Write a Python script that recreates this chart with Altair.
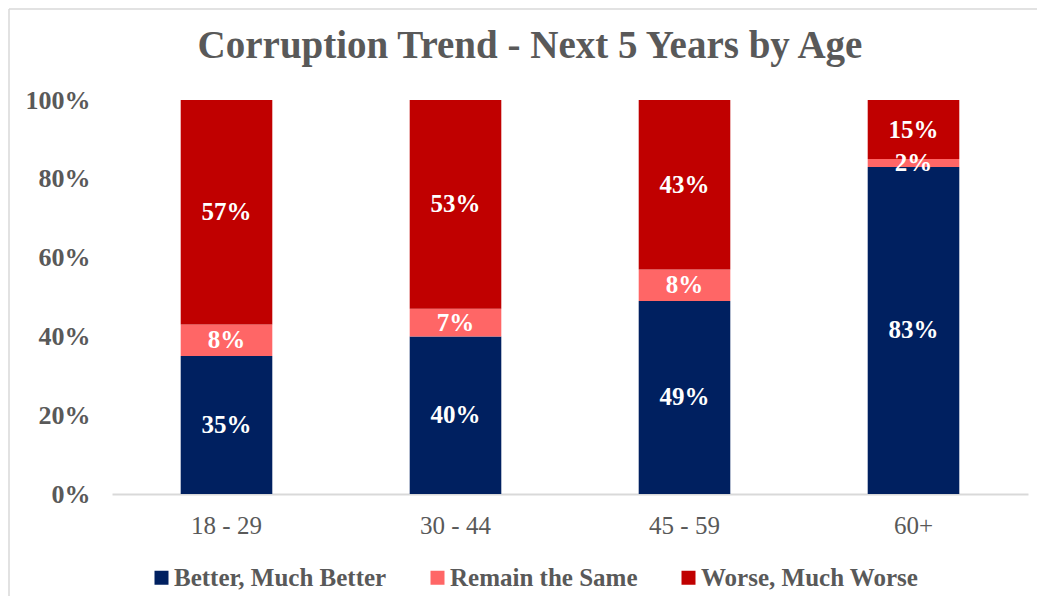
import altair as alt
import pandas as pd

ages = ["18 - 29", "30 - 44", "45 - 59", "60+"]
series = ["Better, Much Better", "Remain the Same", "Worse, Much Worse"]
better = [35, 40, 49, 83]
same = [8, 7, 8, 2]
worse = [57, 53, 43, 15]
colors = ["#002060", "#FF6666", "#C00000"]
y_ticks = [0, 20, 40, 60, 80, 100]
title_text = "Corruption Trend - Next 5 Years by Age"

rows = []
for i, a in enumerate(ages):
    for k, (s, vals) in enumerate(zip(series, [better, same, worse])):
        rows.append({"age": a, "series": s, "value": vals[i], "order": k})
df = pd.DataFrame(rows)

FONT = "Liberation Serif"
GRAY = "#595959"

base = (
    alt.Chart(df)
    .transform_stack(stack="value", groupby=["age"], as_=["y0", "y1"],
                     sort=[alt.SortField("order", order="ascending")])
    .transform_calculate(mid="(datum.y0 + datum.y1) / 2", label="datum.value + '%'")
)

x = alt.X(
    "age:N", sort=ages, title=None,
    scale=alt.Scale(paddingInner=0.6, paddingOuter=0.3),
    axis=alt.Axis(labelAngle=0, labelFont=FONT, labelFontSize=25, labelColor=GRAY,
                  domainColor="#D9D9D9", domainWidth=2, ticks=False, labelPadding=19,
                  grid=False),
)

bars = base.mark_bar().encode(
    x=x,
    y=alt.Y("y1:Q", title=None, scale=alt.Scale(domain=[0, 100], nice=False),
            axis=alt.Axis(values=y_ticks, labelExpr="datum.value + '%'", domain=False,
                          ticks=False, grid=False, labelFont=FONT, labelFontSize=26,
                          labelFontWeight="bold", labelColor=GRAY, labelPadding=22)),
    y2="y0:Q",
    color=alt.Color(
        "series:N",
        scale=alt.Scale(domain=series, range=colors),
        legend=alt.Legend(
            title=None, orient="none", legendX=37, legendY=465, direction="horizontal",
            symbolType="square", symbolSize=196, symbolStrokeWidth=0, padding=0,
            labelFont=FONT, labelFontSize=25, labelFontWeight="bold", labelColor=GRAY,
            labelLimit=400, columnPadding=38, labelOffset=0,
        ),
    ),
    order=alt.Order("order:Q"),
)

texts = base.mark_text(font=FONT, fontSize=25, fontWeight="bold", color="white",
                       baseline="middle", align="center").encode(
    x=alt.X("age:N", sort=ages),
    y=alt.Y("mid:Q"),
    text="label:N",
)

one = pd.DataFrame({"t": [title_text]})

frame_top = alt.Chart(one).mark_rule(stroke="#D9D9D9", strokeWidth=1.5).encode(
    x=alt.value(-103), x2=alt.value(940), y=alt.value(-91)
)
frame_left = alt.Chart(one).mark_rule(stroke="#D9D9D9", strokeWidth=1.5).encode(
    x=alt.value(-103), y=alt.value(-91), y2=alt.value(520)
)

title = alt.Chart(one).mark_text(
    font=FONT, fontSize=39, fontWeight="bold", color=GRAY,
    align="center", baseline="alphabetic",
).encode(x=alt.value(418), y=alt.value(-42), text="t:N")

chart = (
    alt.layer(frame_top, frame_left, bars, texts, title)
    .properties(
        width=916, height=394,
        padding={"left": 104, "top": 92, "right": 9, "bottom": 102},
        autosize=alt.AutoSizeParams(type="none"),
    )
    .configure_view(stroke=None)
)

chart.save("out.html", embed_options={"renderer": "svg", "actions": False})
